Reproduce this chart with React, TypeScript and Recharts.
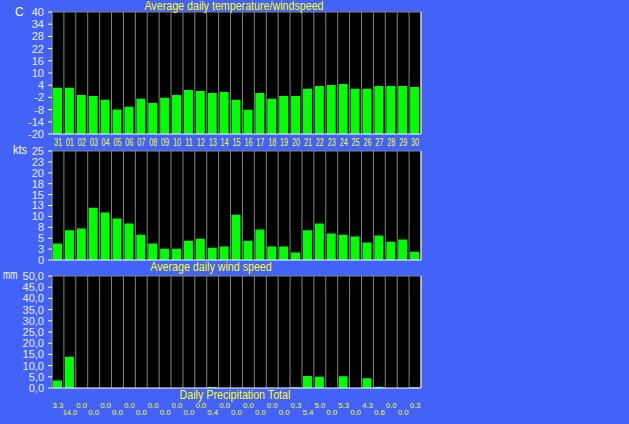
import React from 'react'
import { BarChart, Bar, XAxis, YAxis, CartesianGrid, ReferenceLine } from 'recharts'

// Day labels, last day of previous month first
const days = [
  '31', '01', '02', '03', '04', '05', '06', '07', '08', '09', '10', '11', '12', '13', '14', '15',
  '16', '17', '18', '19', '20', '21', '22', '23', '24', '25', '26', '27', '28', '29', '30'
]

// Average daily temperature, C
const temperature = [
  2.7, 2.7, -0.8, -1.3, -3.2, -7.9, -6.6, -2.7, -4.7, -2.2, -0.8, 1.7, 1.2, 0.2, 0.7, -3.2,
  -8.1, 0.2, -2.7, -1.3, -1.3, 2.2, 3.6, 4.1, 4.6, 2.2, 2.2, 3.6, 3.6, 3.6, 3.1
]

// Average daily wind speed, kts
const windSpeed = [
  3.8, 6.8, 7.2, 12.0, 10.9, 9.5, 8.4, 5.8, 3.8, 2.6, 2.6, 4.4, 4.9, 2.8, 3.1, 10.4,
  4.4, 7.0, 3.1, 3.1, 1.7, 6.8, 8.4, 6.1, 5.8, 5.4, 4.0, 5.6, 4.2, 4.7, 1.9
]

// Daily precipitation total, mm
const precipitation = [
  3.3, 14.0, 0.0, 0.0, 0.0, 0.0, 0.0, 0.0, 0.0, 0.0, 0.0, 0.0, 0.0, 0.4, 0.0, 0.0,
  0.0, 0.0, 0.0, 0.0, 0.3, 5.4, 5.0, 0.0, 5.3, 0.0, 4.3, 0.6, 0.0, 0.0, 0.3
]

const tempTicks = [-20, -14, -8, -2, 4, 10, 16, 22, 28, 34, 40]
const windTicks = [0, 2.5, 5, 7.5, 10, 12.5, 15, 17.5, 20, 22.5, 25]
const rainTicks = [0, 5, 10, 15, 20, 25, 30, 35, 40, 45, 50]

const data = days.map((day, i) => ({
  day,
  temp: temperature[i],
  wind: windSpeed[i],
  rain: precipitation[i]
}))

const BG = '#4262F8'
const GRID = '#848484'
const YELLOW = '#FFFF00'
const GREEN = '#00FF00'
const AXIS_TEXT = '#ECECFF'
const FONT = "'Liberation Sans', Arial, sans-serif"

const WIDTH = 629
const RIGHT = 207

// separators sit on the column boundaries, not on the category centres
const columnSeparators = ({ offset }: any) =>
  Array.from({ length: days.length + 1 }, (_, i) => offset.left + (i * offset.width) / days.length)

// the old bitmap font is narrow, so squeeze the glyphs
const DayTick = ({ x, y, payload }: any) => (
  <text
    x={x}
    y={y + 12}
    textAnchor="middle"
    fill={YELLOW}
    fontSize={10}
    fontFamily={FONT}
    textLength={payload.value.length * 4}
    lengthAdjust="spacingAndGlyphs"
  >
    {payload.value}
  </text>
)

// precipitation totals, alternating between two rows
const RainTick = ({ x, y, index }: any) => {
  const label = (precipitation[index] ?? 0).toFixed(1)
  return (
    <text
      x={x}
      y={y + (index % 2 === 0 ? 20 : 27)}
      textAnchor="middle"
      fill={YELLOW}
      fontSize={8}
      fontFamily={FONT}
      textLength={label.length * 3.6}
      lengthAdjust="spacingAndGlyphs"
    >
      {label}
    </text>
  )
}

interface PanelProps {
  top: number
  height: number
  marginTop: number
  domain: [number, number]
  ticks: number[]
  tickFormatter: (v: number) => string
  dataKey: any
  xAxisHeight: number
  xTick: any
}

function Panel({ top, height, marginTop, domain, ticks, tickFormatter, dataKey, xAxisHeight, xTick }: PanelProps) {
  return (
    <div style={{ position: 'absolute', left: 0, top }}>
      <BarChart
        width={WIDTH}
        height={height}
        data={data}
        margin={{ top: marginTop, right: RIGHT, left: 0, bottom: 0 }}
        barSize={9}
      >
        <CartesianGrid
          horizontal={false}
          stroke={GRID}
          fill="#000"
          fillOpacity={1}
          verticalCoordinatesGenerator={columnSeparators}
        />
        <XAxis
          dataKey="day"
          interval={0}
          axisLine={{ stroke: '#FFFFFF' }}
          tickLine={false}
          tickSize={0}
          tickMargin={0}
          height={xAxisHeight}
          tick={xTick}
        />
        <YAxis
          width={52}
          domain={domain}
          ticks={ticks}
          interval={0}
          allowDataOverflow
          tickFormatter={tickFormatter}
          axisLine={{ stroke: GRID }}
          tickLine={{ stroke: '#FFFFFF' }}
          tickSize={4}
          tickMargin={4}
          tick={{ fill: AXIS_TEXT, fontSize: 11, fontFamily: FONT }}
        />
        <YAxis
          yAxisId="edge"
          orientation="right"
          width={1}
          tick={false}
          tickLine={false}
          axisLine={{ stroke: '#FFFFFF' }}
        />
        <ReferenceLine y={domain[1]} stroke={GRID} />
        <Bar dataKey={dataKey} fill={GREEN} isAnimationActive={false} />
      </BarChart>
    </div>
  )
}

const textStyle = (left: number, top: number, color: string, size: number): React.CSSProperties => ({
  position: 'absolute',
  left,
  top,
  color,
  fontSize: size,
  fontFamily: FONT,
  lineHeight: `${size}px`,
  whiteSpace: 'nowrap'
})

const title = (cx: number, cy: number, text: string) => (
  <div
    style={{
      ...textStyle(cx - 150, cy - 6, YELLOW, 12),
      width: 300,
      textAlign: 'center',
      transform: 'scaleX(0.89)'
    }}
  >
    {text}
  </div>
)

const unit = (left: number, top: number, text: string, squeeze = 1) => (
  <div style={{ ...textStyle(left, top, '#FFFFFF', 12), transform: `scaleX(${squeeze})`, transformOrigin: 'left' }}>
    {text}
  </div>
)

export default function App() {
  return (
    <div style={{ position: 'relative', width: WIDTH, height: 424, background: BG, overflow: 'hidden' }}>
      <style>{'body { margin: 0; }'}</style>

      <Panel
        top={0}
        height={150}
        marginTop={12}
        domain={[-20, 40]}
        ticks={tempTicks}
        tickFormatter={(v) => String(v)}
        dataKey={(d: any) => [-20, d.temp]}
        xAxisHeight={16}
        xTick={<DayTick />}
      />
      <Panel
        top={140}
        height={128}
        marginTop={11}
        domain={[0, 25]}
        ticks={windTicks}
        tickFormatter={(v) => String(Math.round(v))}
        dataKey="wind"
        xAxisHeight={8}
        xTick={false}
      />
      <Panel
        top={264}
        height={154}
        marginTop={12}
        domain={[0, 50]}
        ticks={rainTicks}
        tickFormatter={(v) => v.toFixed(1).replace('.', ',')}
        dataKey="rain"
        xAxisHeight={30}
        xTick={<RainTick />}
      />

      {unit(15, 6, 'C')}
      {unit(13, 144, 'kts', 0.92)}
      {unit(3, 269, 'mm', 0.72)}

      {title(234, 6, 'Average daily temperature/windspeed')}
      {title(211, 267, 'Average daily wind speed')}
      {title(235, 395, 'Daily Precipitation Total')}
    </div>
  )
}
